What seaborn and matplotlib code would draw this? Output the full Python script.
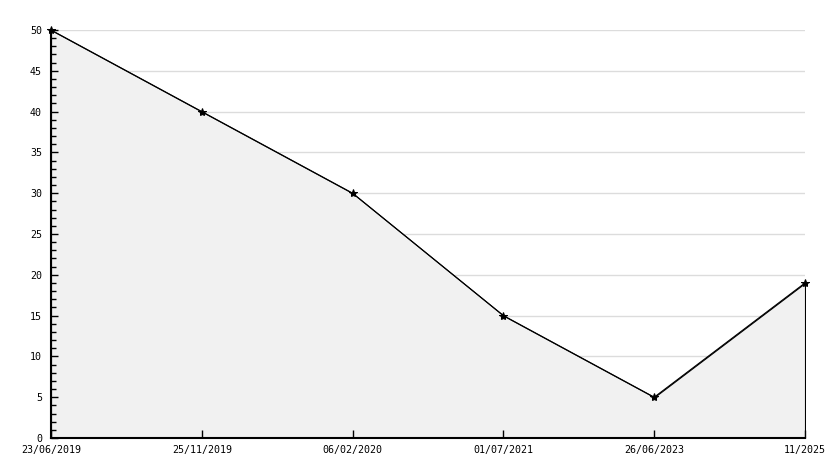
import pandas as pd
import seaborn as sns
import matplotlib.pyplot as plt
from matplotlib.ticker import MultipleLocator

# dati
date_labels = ["23/06/2019", "25/11/2019", "06/02/2020", "01/07/2021", "26/06/2023", "11/2025"]
values = [50, 40, 30, 15, 5, 19]


def main():
    df = pd.DataFrame({"pos": range(len(date_labels)), "value": values})

    sns.set_theme(style="white")
    plt.rcParams["font.family"] = ["DejaVu Sans Mono", "DejaVu Sans"]

    fig = plt.figure(figsize=(8.34, 4.68), dpi=100)
    ax = fig.add_axes([51 / 834, 1 - 438 / 468, 754 / 834, 408 / 468])

    ax.set_xlim(0, len(date_labels) - 1)
    ax.set_ylim(0, 50)
    ax.yaxis.set_major_locator(MultipleLocator(5))
    ax.yaxis.set_minor_locator(MultipleLocator(1))

    # griglia orizzontale sotto l'area
    for yv in ax.get_yticks():
        if 0 < yv <= 50:
            ax.axhline(yv, color="#dcdcdc", linewidth=1, zorder=0.1)

    # area sotto la curva
    ax.fill_between(df["pos"], df["value"], 0, color="#f1f1f1",
                    edgecolor="black", linewidth=0.8, zorder=0.3)

    sns.lineplot(data=df, x="pos", y="value", color="black", linewidth=0.8,
                 marker="*", markersize=6, markeredgecolor="black",
                 markerfacecolor="black", ax=ax, zorder=3, clip_on=False)

    ax.set_xticks(df["pos"])
    ax.set_xticklabels(date_labels)

    for side in ["top", "right"]:
        ax.spines[side].set_visible(False)
    for side in ["left", "bottom"]:
        ax.spines[side].set_color("black")
        ax.spines[side].set_linewidth(1.5)

    ax.tick_params(axis="y", which="major", direction="in", length=5,
                   width=1, color="black", labelcolor="black",
                   labelsize=7.2, pad=6.5, left=True)
    ax.tick_params(axis="y", which="minor", direction="in", length=3.5,
                   width=1, color="black", left=True)
    ax.tick_params(axis="x", which="major", direction="in", length=6,
                   width=1, color="black", labelcolor="black",
                   labelsize=7.2, pad=5, bottom=True)

    ax.set_xlabel("")
    ax.set_ylabel("")

    fig.savefig("out.png", dpi=100)
    plt.close(fig)


if __name__ == "__main__":
    main()
